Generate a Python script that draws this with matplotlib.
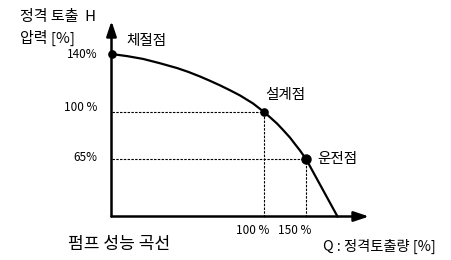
import numpy as np
import matplotlib
matplotlib.use("Agg")
import matplotlib.pyplot as plt

plt.rcParams['font.family'] = ['Noto Sans CJK KR', 'DejaVu Sans']

# ---- data (schematic pump curve, % of rated) ----
curve_q = [0, 10.5, 20.7, 31.5, 43.0, 50.5, 58.0, 64.6, 71.1, 77.7, 84.3, 92.8,
           100, 107.7, 115.5, 123.2, 131.0, 137.5, 142.9, 150, 187.5]
curve_h = [140, 138.5, 136.6, 133.7, 130.3, 127.6, 124.5, 121.5, 118.4, 115.0, 111.4, 105.9,
           100, 95.8, 91.4, 86.3, 80.9, 75.6, 71.3, 65, 0]
point_names = ['체절점', '설계점', '운전점']
point_q = [0, 100, 150]
point_h = [140, 100, 65]
x_tick_values = [100, 150]
x_tick_labels = ['100 %', '150 %']
y_tick_values = [140, 100, 65]
y_tick_labels = ['140%', '100 %', '65%']
y_title = ['정격 토출  H', '압력 [%]']
x_title = 'Q : 정격토출량 [%]'
caption = '펌프 성능 곡선'

# schematic (non-uniform) axis scales, piecewise linear
qk = np.array([-1000, 0, 100, 150, 1000], float)
qp = np.array([-1525, 0, 152.5, 194.5, 908.5], float)
hk = np.array([-1000, 0, 65, 100, 140, 1000], float)
hp = np.array([-885, 0, 57.5, 104.5, 162.5, 1409.5], float)

def xf(v): return np.interp(v, qk, qp)
def xi(v): return np.interp(v, qp, qk)
def yf(v): return np.interp(v, hk, hp)
def yi(v): return np.interp(v, hp, hk)

W, H = 451, 260
fig = plt.figure(figsize=(W / 100, H / 100), dpi=100)
ax_l, ax_r, ax_t, ax_b = 111.5, 369, 21, 216.5
ax = fig.add_axes([ax_l / W, (H - ax_b) / H, (ax_r - ax_l) / W, (ax_b - ax_t) / H])
ax.set_xscale('function', functions=(xf, xi))
ax.set_yscale('function', functions=(yf, yi))
ax.set_xlim(0, xi(ax_r - ax_l))
ax.set_ylim(0, yi(ax_b - ax_t))
for s in ax.spines.values():
    s.set_visible(False)
ax.set_xticks([])
ax.set_yticks([])
ax.patch.set_alpha(0)

# axes with arrows
for tip in [(0, 1), (1, 0)]:
    ax.annotate('', xy=tip, xytext=(0, 0), xycoords='axes fraction',
                arrowprops=dict(arrowstyle='-|>,head_length=0.9,head_width=0.3', lw=1.8,
                                color='black', shrinkA=0, shrinkB=0))

# dashed guides
dash = (0, (2.2, 1.2))
for q, h in zip(point_q[1:], point_h[1:]):
    ax.plot([0, q], [h, h], color='black', lw=0.8, linestyle=dash, clip_on=False)
    ax.plot([q, q], [0, h], color='black', lw=0.8, linestyle=dash, clip_on=False)

# curve
ax.plot(curve_q, curve_h, color='black', lw=1.6, clip_on=False, solid_joinstyle='round')
ax.plot(point_q[:2], point_h[:2], 'o', color='black', ms=5.2, clip_on=False, zorder=5)
ax.plot(point_q[2:], point_h[2:], 'o', color='black', ms=6.5, clip_on=False, zorder=5)

# point labels
offs = [(11, 9), (1, 12), (8, 0)]
for name, q, h, (dx, dy) in zip(point_names, point_q, point_h, offs):
    ax.annotate(name, xy=(q, h), xytext=(dx, dy), textcoords='offset points',
                ha='left', va='center', fontsize=10.5)

# tick labels
for v, lab in zip(x_tick_values, x_tick_labels):
    ax.annotate(lab, xy=(v, 0), xytext=(-8, -10), textcoords='offset points',
                ha='center', va='center', fontsize=8.5)
y_offs = [0, 3.5, 1]
for v, lab, dy in zip(y_tick_values, y_tick_labels, y_offs):
    ax.annotate(lab, xy=(0, v), xytext=(-10, dy), textcoords='offset points',
                ha='right', va='center', fontsize=8.5)

fig.text(20 / W, 1 - 17 / H, y_title[0], ha='left', va='center', fontsize=10.8)
fig.text(20 / W, 1 - 38 / H, y_title[1], ha='left', va='center', fontsize=10.8)
fig.text(323 / W, 1 - 246 / H, x_title, ha='left', va='center', fontsize=10.3)
fig.text(68 / W, 1 - 244 / H, caption, ha='left', va='center', fontsize=12.3)

fig.savefig('out.png', dpi=100)
